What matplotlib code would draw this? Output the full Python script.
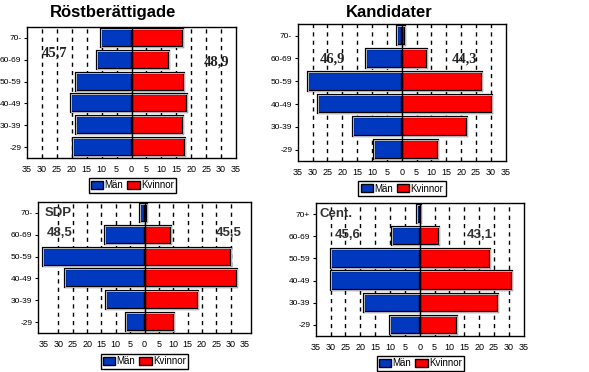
import matplotlib
matplotlib.use("Agg")
import matplotlib.pyplot as plt
from matplotlib.patches import Patch
import numpy as np

W, H = 589, 372
age_groups = ["70-", "60-69", "50-59", "40-49", "30-39", "-29"]
age_groups_cent = ["70+", "60-69", "50-59", "40-49", "30-39", "-29"]
ticks = [-35, -30, -25, -20, -15, -10, -5, 0, 5, 10, 15, 20, 25, 30, 35]
tick_labels = ["35", "30", "25", "20", "15", "10", "5", "0", "5", "10", "15", "20", "25", "30", "35"]

rost_men = [10.1, 11.7, 18.7, 20.2, 18.7, 19.6]
rost_women = [17.3, 12.6, 17.5, 18.5, 17.2, 17.8]
kand_men = [1.6, 11.9, 31.4, 28.2, 16.4, 9.3]
kand_women = [1.0, 8.4, 26.9, 30.5, 22.0, 12.3]
sdp_men = [1.6, 13.8, 35.5, 27.8, 13.5, 6.5]
sdp_women = [0.9, 9.2, 30.0, 32.3, 18.6, 10.4]
cent_men = [0.9, 9.4, 30.0, 30.0, 18.9, 10.0]
cent_women = [0.6, 6.4, 23.5, 30.9, 26.4, 12.5]

BLUE = "#0038c0"
RED = "#ff0000"

fig = plt.figure(figsize=(W / 100, H / 100), dpi=100)
fig.patch.set_facecolor("white")


def ax_px(x0, y0, x1, y1):
    return fig.add_axes([x0 / W, 1 - y1 / H, (x1 - x0) / W, (y1 - y0) / H])


def fx(x):
    return x / W


def fy(y):
    return 1 - y / H


def panel(box, men, women, labels, xlim, legend_c):
    ax = ax_px(*box)
    y = np.arange(len(men))[::-1]
    for g in range(-30, 31, 5):
        if g != 0:
            ax.axvline(g, color="black", lw=1, ls=(0, (3, 3)), zorder=1)
    m = -np.array(men)
    w = np.array(women)
    for vals, col in ((m, BLUE), (w, RED)):
        ax.barh(y, vals, height=0.83, color=col, edgecolor="black", lw=1.6, zorder=2)
        ax.barh(y, vals, height=0.83, color="none", edgecolor="white", lw=0.5, zorder=3)
    ax.axvline(0, color="black", lw=1, zorder=4)
    ax.set_xlim(-xlim, xlim)
    ax.set_ylim(-0.5, len(men) - 0.5)
    ax.set_xticks(ticks)
    ax.set_xticklabels(tick_labels, fontsize=6.5, family="Liberation Sans")
    ax.set_yticks(y)
    ax.set_yticklabels(labels, fontsize=6.0, family="Liberation Sans")
    ax.tick_params(axis="x", length=0, pad=5)
    ax.tick_params(axis="y", length=2, pad=2)
    for s in ax.spines.values():
        s.set_linewidth(1)
        s.set_color("black")
    handles = [Patch(facecolor=BLUE, edgecolor="black", lw=1),
               Patch(facecolor=RED, edgecolor="black", lw=1)]
    leg = fig.legend(handles, ["Män", "Kvinnor"], loc="center",
                     bbox_to_anchor=(fx(legend_c[0]), fy(legend_c[1])), ncol=2,
                     prop={"family": "Liberation Sans", "size": 7},
                     handlelength=1.25, handleheight=0.9, handletextpad=0.15,
                     columnspacing=0.4, borderpad=0.25, borderaxespad=0,
                     fancybox=False, framealpha=1, edgecolor="black")
    leg.get_frame().set_linewidth(1)
    return ax


panel((27, 27, 236, 158), rost_men, rost_women, age_groups, 35, (132.5, 185.5))
panel((297.7, 24.3, 505.7, 161), kand_men, kand_women, age_groups, 35, (402, 188.5))
panel((38, 202, 251, 333), sdp_men, sdp_women, age_groups, 37.1, (144.5, 361.5))
panel((315.7, 203, 523.7, 336), cent_men, cent_women, age_groups_cent, 35, (420.5, 363.5))

title_kw = dict(family="Liberation Sans", weight="bold", size=12, ha="center", va="center")
fig.text(fx(113), fy(12.5), "Röstberättigade", **title_kw)
fig.text(fx(389.5), fy(12.7), "Kandidater", **title_kw)

serif_kw = dict(family="Liberation Serif", weight="bold", size=10.5, ha="left", va="center", color="#222222")
sans_kw = dict(family="Liberation Sans", weight="bold", size=9.5, ha="left", va="center", color="#333333")

fig.text(fx(41.7), fy(53.3), "45,7", **serif_kw)
fig.text(fx(204), fy(61.7), "48,9", **serif_kw)
fig.text(fx(320), fy(59.3), "46,9", **serif_kw)
fig.text(fx(451.7), fy(59.3), "44,3", **serif_kw)

fig.text(fx(45), fy(212.7), "SDP", **sans_kw)
fig.text(fx(46.7), fy(232.7), "48,5", **sans_kw)
fig.text(fx(216), fy(232.7), "45,5", **sans_kw)
fig.text(fx(320), fy(214.3), "Cent.", **sans_kw)
fig.text(fx(335), fy(235), "45,6", **sans_kw)
fig.text(fx(466.7), fy(235), "43,1", **sans_kw)

fig.savefig("out.png", dpi=100)
